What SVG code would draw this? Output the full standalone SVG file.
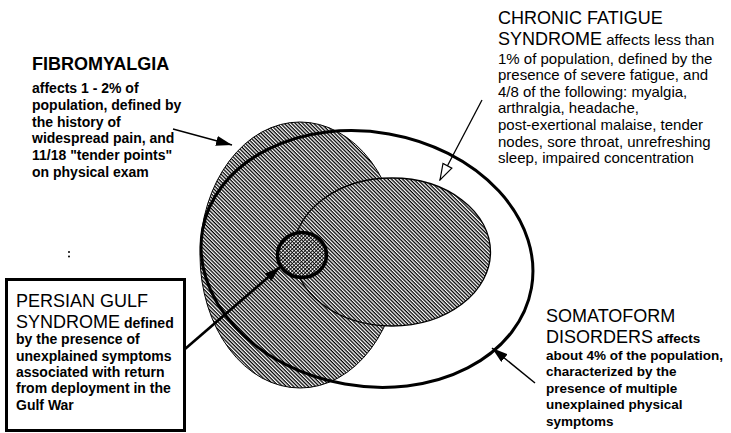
<svg xmlns="http://www.w3.org/2000/svg" width="731" height="433" viewBox="0 0 731 433">
<style>
text{font-family:"Liberation Sans",Arial,sans-serif;fill:#000}
.t{font-size:18px}
.b{font-weight:bold;font-size:14px}
.r{font-size:15px}
.sb{font-weight:bold;font-size:13.5px}
.conn{stroke:#000;fill:none}
</style>
<defs>
<pattern id="hatch" patternUnits="userSpaceOnUse" width="4" height="2.6" patternTransform="rotate(45)">
<rect width="4" height="2.6" fill="#fff"/>
<line x1="0" y1="0.65" x2="4" y2="0.65" stroke="#000" stroke-width="1.3"/>
</pattern>
<pattern id="stipple" patternUnits="userSpaceOnUse" width="2.6" height="2.6" patternTransform="rotate(45)">
<rect width="2.6" height="2.6" fill="#fff"/>
<line x1="0" y1="0.5" x2="2.6" y2="0.5" stroke="#000" stroke-width="0.9"/>
<line x1="0.5" y1="0" x2="0.5" y2="2.6" stroke="#000" stroke-width="0.9"/>
</pattern>
<marker id="ah" markerUnits="userSpaceOnUse" viewBox="0 0 16 10" markerWidth="16" markerHeight="10" refX="16" refY="5" orient="auto">
<path d="M0,0 L16,5 L0,10 Z" fill="#000"/>
</marker>
<marker id="ao" markerUnits="userSpaceOnUse" viewBox="-1 -1 18 12" markerWidth="18" markerHeight="12" refX="16" refY="5" orient="auto">
<path d="M0,0 L16,5 L0,10 Z" fill="#fff" stroke="#000" stroke-width="1.2"/>
</marker>
</defs>
<rect width="731" height="433" fill="#fff"/>

<g id="fibromyalgia">
<ellipse cx="300" cy="255" rx="100" ry="133" fill="url(#hatch)" stroke="#000" stroke-width="1"/>
<text class="t" font-weight="bold" x="32" y="70">FIBROMYALGIA</text>
<text class="b" x="32" y="93">affects 1 - 2% of</text>
<text class="b" x="32" y="110">population, defined by</text>
<text class="b" x="32" y="126.5">the history of</text>
<text class="b" x="32" y="143">widespread pain, and</text>
<text class="b" x="32" y="159.5">11/18 "tender points"</text>
<text class="b" x="32" y="176.5">on physical exam</text>
</g>

<g id="chronic-fatigue">
<ellipse cx="392" cy="252" rx="98.5" ry="74" fill="url(#hatch)" stroke="#000" stroke-width="1.3"/>
<text class="t" x="498" y="24">CHRONIC FATIGUE</text>
<text x="498" y="45"><tspan class="t">SYNDROME</tspan><tspan class="r"> affects less than</tspan></text>
<text class="r" x="498" y="63.5">1% of population, defined by the</text>
<text class="r" x="498" y="80">presence of severe fatigue, and</text>
<text class="r" x="498" y="96.7">4/8 of the following: myalgia,</text>
<text class="r" x="498" y="113.3">arthralgia, headache,</text>
<text class="r" x="498" y="130">post-exertional malaise, tender</text>
<text class="r" x="498" y="146.7">nodes, sore throat, unrefreshing</text>
<text class="r" x="498" y="163.3">sleep, impaired concentration</text>
</g>

<g id="somatoform">
<ellipse cx="367" cy="259" rx="167" ry="127" transform="rotate(10 367 259)" fill="none" stroke="#000" stroke-width="3"/>
<text class="t" x="546" y="322">SOMATOFORM</text>
<text x="546" y="343"><tspan class="t">DISORDERS</tspan><tspan class="sb"> affects</tspan></text>
<text class="sb" x="546" y="359.5">about 4% of the population,</text>
<text class="sb" x="546" y="376">characterized by the</text>
<text class="sb" x="546" y="392.5">presence of multiple</text>
<text class="sb" x="546" y="409">unexplained physical</text>
<text class="sb" x="546" y="425.5">symptoms</text>
</g>

<g id="persian-gulf">
<ellipse cx="302" cy="255" rx="24.5" ry="22.5" fill="url(#stipple)" stroke="#000" stroke-width="3.5"/>
<rect x="6.5" y="279.5" width="178" height="151" fill="#fff" stroke="#000" stroke-width="3"/>
<text class="t" x="16" y="307">PERSIAN GULF</text>
<text x="16" y="327.5"><tspan class="t">SYNDROME</tspan><tspan class="b"> defined</tspan></text>
<text class="b" x="16" y="344.3">by the presence of</text>
<text class="b" x="16" y="360.6">unexplained symptoms</text>
<text class="b" x="16" y="377">associated with return</text>
<text class="b" x="16" y="393.4">from deployment in the</text>
<text class="b" x="16" y="410">Gulf War</text>
</g>

<g id="stray-mark">
<circle cx="69" cy="252" r="1" fill="#000"/>
<circle cx="69" cy="256.5" r="1" fill="#000"/>
</g>

<g id="connectors">
<line class="conn" x1="173" y1="129" x2="232" y2="145" stroke-width="1.5" marker-end="url(#ah)"/>
<line class="conn" x1="482" y1="100" x2="440" y2="180" stroke-width="1.3" marker-end="url(#ao)"/>
<line class="conn" x1="185" y1="349" x2="280" y2="267" stroke-width="2.6" marker-end="url(#ah)"/>
<line class="conn" x1="535" y1="383" x2="492" y2="348" stroke-width="1.5" marker-end="url(#ah)"/>
</g>
</svg>
